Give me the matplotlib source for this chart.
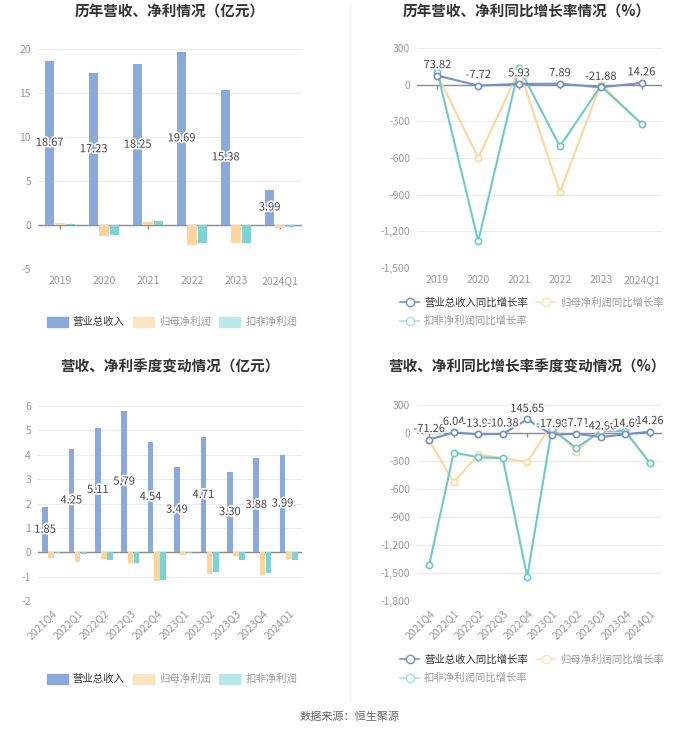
import numpy as np
import matplotlib.pyplot as plt
import matplotlib.patheffects as pe
from matplotlib.patches import Patch
from matplotlib.lines import Line2D
from matplotlib.ticker import FuncFormatter, MultipleLocator

plt.rcParams['font.family'] = ['Noto Sans CJK SC', 'DejaVu Sans']
plt.rcParams['axes.unicode_minus'] = False

# 年度数据
years = ['2019', '2020', '2021', '2022', '2023', '2024Q1']
rev_y = [18.67, 17.23, 18.25, 19.69, 15.38, 3.99]
np_y = [0.20, -1.20, 0.30, -2.30, -2.02, -0.30]
kf_y = [0.10, -1.12, 0.50, -2.00, -2.02, -0.25]
rev_g_y = [73.82, -7.72, 5.93, 7.89, -21.88, 14.26]
np_g_y = [80, -600, 120, -880, 5, -320]
kf_g_y = [100, -1280, 140, -505, -10, -320]

# 季度数据
quarters = ['2021Q4', '2022Q1', '2022Q2', '2022Q3', '2022Q4',
            '2023Q1', '2023Q2', '2023Q3', '2023Q4', '2024Q1']
rev_q = [1.85, 4.25, 5.11, 5.79, 4.54, 3.49, 4.71, 3.30, 3.88, 3.99]
np_q = [-0.25, -0.42, -0.28, -0.45, -1.18, -0.10, -0.90, -0.15, -0.95, -0.28]
kf_q = [-0.03, -0.08, -0.30, -0.45, -1.15, -0.03, -0.82, -0.32, -0.85, -0.30]
rev_g_q = [-71.26, 6.04, -13.91, -10.38, 145.65, -17.90, -7.71, -42.96, -14.60, 14.26]
np_g_q = [-80, -530, -230, -270, -310, 90, -200, 40, 20, -320]
kf_g_q = [-1410, -210, -260, -270, -1540, 40, -160, 20, 20, -320]

c_rev = '#8aaadc'
c_np = '#fdd49c'
c_kf = '#7dd3d3'
l_rev = '#7391c9'
l_np = '#ffd699'
l_kf = '#6ecaca'
grey = '#999999'
W, H = 700, 734

fig = plt.figure(figsize=(7, 7.34), dpi=100)
fig.patch.set_facecolor('white')


def add_ax(x0, y0, x1, y1):
    return fig.add_axes([x0 / W, 1 - y1 / H, (x1 - x0) / W, (y1 - y0) / H])


outline = [pe.withStroke(linewidth=2.5, foreground='white')]


def style(ax, labels, rotate=False):
    for s in ax.spines.values():
        s.set_visible(False)
    ax.grid(axis='y', color='#ececec', linewidth=0.8)
    ax.set_axisbelow(True)
    ax.axhline(0, color='#8c8c8c', linewidth=1, zorder=2)
    ax.set_xticks(range(len(labels)))
    if rotate:
        ax.set_xticklabels(labels, rotation=45, ha='right', rotation_mode='anchor')
    else:
        ax.set_xticklabels(labels)
    ax.tick_params(axis='both', length=0, colors=grey, labelsize=7.5, pad=5)
    ax.set_xlim(-0.5, len(labels) - 0.5)


def zero_ticks(ax, n, frac):
    lo, hi = ax.get_ylim()
    ax.vlines(range(n), 0, -(hi - lo) * frac, color='#8c8c8c', linewidth=1, zorder=2)


def bars(ax, labels, rev, npf, kf):
    x = np.arange(len(labels))
    w = 0.21
    ax.bar(x - 0.235, rev, w, color=c_rev, zorder=3)
    ax.bar(x, npf, w, color=c_np, zorder=3)
    ax.bar(x + 0.235, kf, w, color=c_kf, zorder=3)
    for xi, v in zip(x, rev):
        ax.text(xi - 0.235, v / 2, f'{v:.2f}', ha='center', va='center',
                fontsize=8, color='#444444', path_effects=outline, zorder=5)


def lines(ax, labels, rg, ng, kg):
    x = np.arange(len(labels))
    mk = dict(marker='o', markersize=4.5, markerfacecolor='white', linewidth=1.5, markeredgewidth=1.2)
    ax.plot(x, ng, color=l_np, markeredgecolor=l_np, zorder=3, **mk)
    ax.plot(x, kg, color=l_kf, markeredgecolor=l_kf, zorder=4, **mk)
    ax.plot(x, rg, color=l_rev, markeredgecolor=l_rev, zorder=5, **mk)
    for xi, v in zip(x, rg):
        ax.annotate(f'{v:.2f}', (xi, v), xytext=(0, 4), textcoords='offset points',
                    ha='center', va='bottom', fontsize=8, color='#444444',
                    path_effects=outline, zorder=6)


fmt = FuncFormatter(lambda v, p: f'{v:,.0f}')

# 左上
ax1 = add_ax(38, 49, 302, 269)
style(ax1, years)
bars(ax1, years, rev_y, np_y, kf_y)
ax1.set_ylim(-5, 20)
ax1.yaxis.set_major_locator(MultipleLocator(5))
zero_ticks(ax1, len(years), 0.02)

# 右上
ax2 = add_ax(417, 48, 662, 268)
style(ax2, years)
lines(ax2, years, rev_g_y, np_g_y, kf_g_y)
ax2.set_ylim(-1500, 300)
ax2.yaxis.set_major_locator(MultipleLocator(300))
ax2.yaxis.set_major_formatter(fmt)
zero_ticks(ax2, len(years), 0.02)

# 左下
ax3 = add_ax(38, 406, 302, 601)
style(ax3, quarters, rotate=True)
bars(ax3, quarters, rev_q, np_q, kf_q)
ax3.set_ylim(-2, 6)
ax3.yaxis.set_major_locator(MultipleLocator(1))

# 右下
ax4 = add_ax(417, 405, 662, 601)
style(ax4, quarters, rotate=True)
lines(ax4, quarters, rev_g_q, np_g_q, kf_g_q)
ax4.set_ylim(-1800, 300)
ax4.yaxis.set_major_locator(MultipleLocator(300))
ax4.yaxis.set_major_formatter(fmt)
zero_ticks(ax4, len(quarters), 0.02)

# 标题
tkw = dict(ha='center', va='center', fontsize=10.5, fontweight='bold', color='#333333')
fig.text(170 / W, 1 - 12 / H, '历年营收、净利情况（亿元）', **tkw)
fig.text(527 / W, 1 - 12 / H, '历年营收、净利同比增长率情况（%）', **tkw)
fig.text(170 / W, 1 - 367 / H, '营收、净利季度变动情况（亿元）', **tkw)
fig.text(527 / W, 1 - 367 / H, '营收、净利同比增长率季度变动情况（%）', **tkw)

# 图例
bar_h = [Patch(color=c_rev), Patch(color='#fde4c0'), Patch(color='#b8e8e8')]
bar_l = ['营业总收入', '归母净利润', '扣非净利润']
line_h = [Line2D([], [], color=l_rev, marker='o', markerfacecolor='white', markersize=6, lw=1.2),
          Line2D([], [], color='#a8dede', marker='o', markerfacecolor='white', markersize=6, lw=1.2),
          Line2D([], [], color='#ffe2b8', marker='o', markerfacecolor='white', markersize=6, lw=1.2)]
line_l = ['营业总收入同比增长率', '扣非净利润同比增长率', '归母净利润同比增长率']

for yc_bar, yc_line in [(322, 312), (679, 669)]:
    lg = fig.legend(bar_h, bar_l, loc='center', bbox_to_anchor=(172 / W, 1 - yc_bar / H),
                    ncol=3, frameon=False, fontsize=7.5, handlelength=2.0, handleheight=1.1,
                    columnspacing=0.8, handletextpad=0.5)
    for i, t in enumerate(lg.get_texts()):
        t.set_color('#333333' if i == 0 else '#999999')
    lg2 = fig.legend(line_h, line_l, loc='center', bbox_to_anchor=(532 / W, 1 - yc_line / H),
                     ncol=2, frameon=False, fontsize=7.5, handlelength=1.8,
                     columnspacing=0.8, handletextpad=0.5, labelspacing=0.75)
    for i, t in enumerate(lg2.get_texts()):
        t.set_color('#333333' if i == 0 else '#999999')

# 分隔线
fig.add_artist(Line2D([350 / W, 350 / W], [1 - 5 / H, 1 - 700 / H], color='#f0f0f0', lw=1))

fig.text(350 / W, 1 - 717 / H, '数据来源：恒生聚源', ha='center', va='center',
         fontsize=8, color='#666666')

fig.savefig('out.png', dpi=100)
